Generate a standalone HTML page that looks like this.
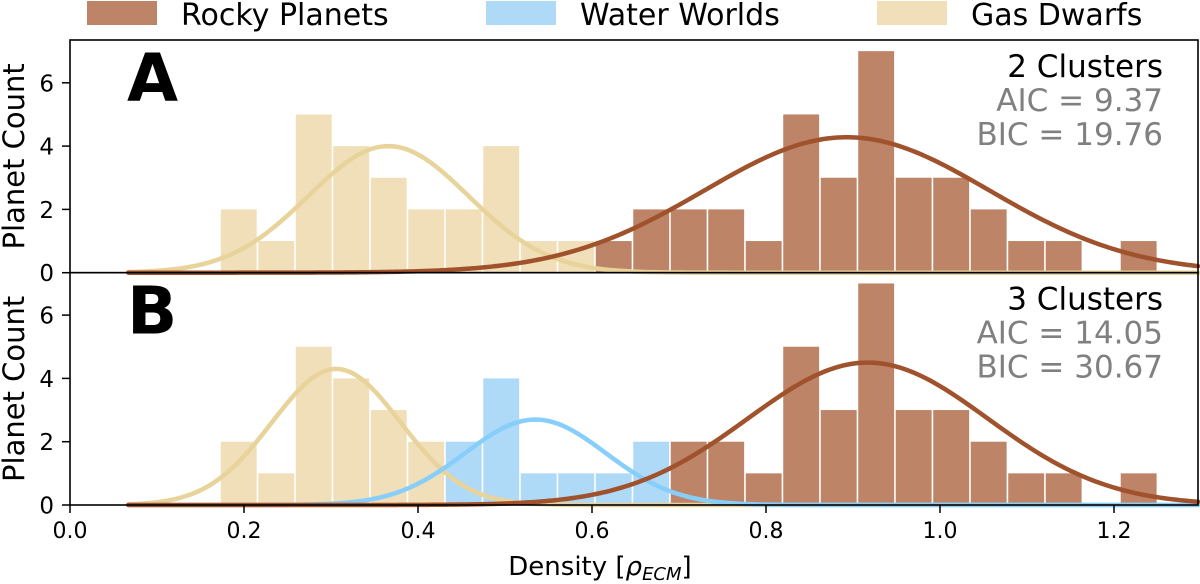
<!DOCTYPE html>
<html><head><meta charset="utf-8"><style>
html,body{margin:0;padding:0;background:#fff;}
svg{display:block;font-family:"DejaVu Sans","Liberation Sans",sans-serif;}
</style></head><body>
<svg id="chart" width="1200" height="584" viewBox="0 0 1200 584"></svg>
<script>
const binStart = 0.1724;
const binWidth = 0.0431;
const gasA = [2,1,5,4,3,2,2,4,1,1];
const rockyAStartBin = 10;
const rockyA = [1,2,2,2,1,5,3,7,3,3,2,1,1,0,1];
const gasB = [2,1,5,4,3,2];
const waterBStartBin = 6;
const waterB = [2,4,1,1,1,2];
const rockyBStartBin = 12;
const rockyB = [2,2,1,5,3,7,3,3,2,1,1,0,1];
const fitGasA = [4.0, 0.366, 0.092];
const fitRockyA = [4.28, 0.893, 0.164];
const fitGasB = [4.3, 0.306, 0.074];
const fitWaterB = [2.7, 0.535, 0.081];
const fitRockyB = [4.5, 0.917, 0.138];
const xTicks = [0.0,0.2,0.4,0.6,0.8,1.0,1.2];
const yTicks = [0,2,4,6];
const statsA = ["2 Clusters","AIC = 9.37","BIC = 19.76"];
const statsB = ["3 Clusters","AIC = 14.05","BIC = 30.67"];

const NS="http://www.w3.org/2000/svg";
const svg=document.getElementById('chart');
const X0=70, XS=870, XMIN=0, XMAX=1.2966;
const xp=v=>X0+(v-XMIN)*XS;
const YU=31.65;
function mk(tag,attrs,parent){const e=document.createElementNS(NS,tag);for(const k in attrs)e.setAttribute(k,attrs[k]);(parent||svg).appendChild(e);return e;}
const C={rockyBar:"#bd8468",rockyLine:"#a0522d",waterBar:"#aedaf8",waterLine:"#87cefa",gasBar:"#f0dfb9",gasLine:"#e8d39b"};

function panel(name,y0,ytop,bars,fits,stats,letter){
  const g=mk('g',{});
  
  
  const yp=v=>y0-v*YU;
  bars.forEach(b=>{
    b.vals.forEach((v,i)=>{
      if(v<=0)return;
      const k=b.start+i;
      const l=binStart+k*binWidth;
      const r=mk('rect',{x:xp(l)+0.8,y:yp(v),width:binWidth*XS-1.6,height:v*YU,fill:b.color},g);
      
      
    });
  });
  fits.forEach(f=>{
    let d="";
    for(let i=0;i<=300;i++){const x=0.067+(XMAX-0.067)*i/300;const y=f.p[0]*Math.exp(-0.5*Math.pow((x-f.p[1])/f.p[2],2));d+=(i?"L":"M")+xp(x).toFixed(2)+","+yp(y).toFixed(2);}
    const p=mk('path',{d:d,fill:"none",stroke:f.color,"stroke-width":4.5,"stroke-linecap":"round"},g);
    
    
  });
  const fr=mk('rect',{x:X0,y:ytop,width:1198-X0,height:y0-ytop,fill:"none",stroke:"#000","stroke-width":1.6},g);
  
  
  yTicks.forEach(t=>{
    mk('line',{x1:X0-8,x2:X0,y1:yp(t),y2:yp(t),stroke:"#000","stroke-width":1.5},g);
    const tx=mk('text',{x:X0-16,y:yp(t)+8.5,"text-anchor":"end","font-size":23,fill:"#000"},g);
    tx.textContent=t;
    
    
  });
  const lt=mk('text',{x:127,y:ytop+61,"font-size":66,"font-weight":"bold",fill:"#000"},g);
  lt.textContent=letter;
  
  
  stats.forEach((s,i)=>{
    const t=mk('text',{x:1163,y:ytop+37+i*34,"text-anchor":"end","font-size":31,fill:i?"#808080":"#000"},g);
    t.textContent=s;
    
    
  });
  const yl=mk('text',{x:0,y:0,"text-anchor":"middle","font-size":29,fill:"#000",transform:`translate(24,${(y0+ytop)/2}) rotate(-90)`},g);
  yl.textContent="Planet Count";
  
  
}
panel('a',272.7,40,
  [{name:'gas',vals:gasA,start:0,color:C.gasBar},{name:'rocky',vals:rockyA,start:rockyAStartBin,color:C.rockyBar}],
  [{name:'gas',p:fitGasA,color:C.gasLine},{name:'rocky',p:fitRockyA,color:C.rockyLine}],statsA,'A');
panel('b',505,272.7,
  [{name:'gas',vals:gasB,start:0,color:C.gasBar},{name:'water',vals:waterB,start:waterBStartBin,color:C.waterBar},{name:'rocky',vals:rockyB,start:rockyBStartBin,color:C.rockyBar}],
  [{name:'gas',p:fitGasB,color:C.gasLine},{name:'water',p:fitWaterB,color:C.waterLine},{name:'rocky',p:fitRockyB,color:C.rockyLine}],statsB,'B');
xTicks.forEach(t=>{
  mk('line',{x1:xp(t),x2:xp(t),y1:505,y2:513,stroke:"#000","stroke-width":1.5});
  const tx=mk('text',{x:xp(t),y:538,"text-anchor":"middle","font-size":22,fill:"#000"});
  tx.textContent=t.toFixed(1);
  
  
});
const xt=mk('text',{x:600,y:575,"text-anchor":"middle","font-size":26,fill:"#000"});
xt.innerHTML='Density [<tspan font-style="italic">ρ</tspan><tspan font-style="italic" font-size="18" dy="5">ECM</tspan><tspan dy="-5">]</tspan>';


const legend=[["Rocky Planets",87,181,C.rockyBar],["Water Worlds",486,580,C.waterBar],["Gas Dwarfs",877,971,C.gasBar]];
legend.forEach(l=>{
  const r=mk('rect',{x:l[1],y:1,width:70,height:24,fill:l[3]});
  
  
  const t=mk('text',{x:l[2],y:25,"font-size":30,fill:"#000"});
  t.textContent=l[0];
  
  
});
</script>
</body></html>
